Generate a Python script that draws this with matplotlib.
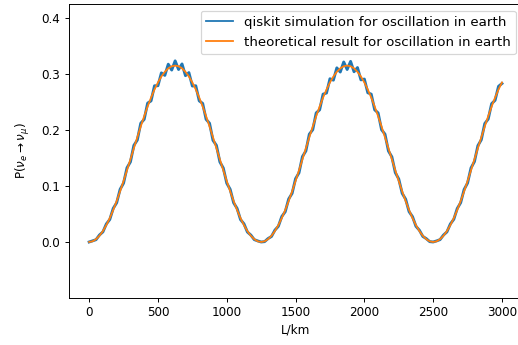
import matplotlib
matplotlib.use("Agg")
import matplotlib.pyplot as plt
import numpy as np

# distance in km, sampled every 25 km from 0 to 3000
L_km = np.arange(0, 3001, 25)

# qiskit simulation (noisy)
p_sim = [
    0.0000, 0.0020, 0.0041, 0.0125, 0.0180, 0.0322, 0.0402, 0.0600, 0.0700, 0.0940,
    0.1050, 0.1325, 0.1430, 0.1725, 0.1820, 0.2120, 0.2190, 0.2480, 0.2520, 0.2790,
    0.2790, 0.3020, 0.2975, 0.3175, 0.3070, 0.3235, 0.3080, 0.3180, 0.2970, 0.3025,
    0.2785, 0.2790, 0.2520, 0.2475, 0.2190, 0.2120, 0.1815, 0.1725, 0.1430, 0.1320,
    0.1050, 0.0940, 0.0700, 0.0600, 0.0400, 0.0325, 0.0178, 0.0124, 0.0042, 0.0019,
    0.0000, 0.0006, 0.0061, 0.0098, 0.0212, 0.0280, 0.0455, 0.0540, 0.0768, 0.0868,
    0.1130, 0.1235, 0.1525, 0.1625, 0.1925, 0.2005, 0.2305, 0.2360, 0.2640, 0.2660,
    0.2915, 0.2890, 0.3110, 0.3035, 0.3215, 0.3080, 0.3225, 0.3040, 0.3115, 0.2895,
    0.2910, 0.2665, 0.2640, 0.2360, 0.2305, 0.2005, 0.1925, 0.1625, 0.1520, 0.1238,
    0.1125, 0.0868, 0.0765, 0.0542, 0.0452, 0.0280, 0.0210, 0.0099, 0.0060, 0.0006,
    0.0000, 0.0019, 0.0042, 0.0124, 0.0180, 0.0322, 0.0405, 0.0598, 0.0702, 0.0938,
    0.1052, 0.1322, 0.1435, 0.1720, 0.1826, 0.2115, 0.2195, 0.2470, 0.2530, 0.2780,
    0.2830,
]

# theoretical curve
p_theory = [
    0.0000, 0.0012, 0.0050, 0.0111, 0.0195, 0.0301, 0.0427, 0.0571, 0.0731, 0.0904,
    0.1088, 0.1280, 0.1476, 0.1674, 0.1870, 0.2062, 0.2246, 0.2419, 0.2579, 0.2723,
    0.2849, 0.2955, 0.3039, 0.3101, 0.3138, 0.3150, 0.3138, 0.3101, 0.3039, 0.2955,
    0.2849, 0.2723, 0.2579, 0.2419, 0.2246, 0.2062, 0.1870, 0.1674, 0.1476, 0.1280,
    0.1088, 0.0904, 0.0731, 0.0571, 0.0427, 0.0301, 0.0195, 0.0111, 0.0050, 0.0012,
    0.0000, 0.0012, 0.0050, 0.0111, 0.0195, 0.0301, 0.0427, 0.0571, 0.0731, 0.0904,
    0.1088, 0.1280, 0.1476, 0.1674, 0.1870, 0.2062, 0.2246, 0.2419, 0.2579, 0.2723,
    0.2849, 0.2955, 0.3039, 0.3101, 0.3138, 0.3150, 0.3138, 0.3101, 0.3039, 0.2955,
    0.2849, 0.2723, 0.2579, 0.2419, 0.2246, 0.2062, 0.1870, 0.1674, 0.1476, 0.1280,
    0.1088, 0.0904, 0.0731, 0.0571, 0.0427, 0.0301, 0.0195, 0.0111, 0.0050, 0.0012,
    0.0000, 0.0012, 0.0050, 0.0111, 0.0195, 0.0301, 0.0427, 0.0571, 0.0731, 0.0904,
    0.1088, 0.1280, 0.1476, 0.1674, 0.1870, 0.2062, 0.2246, 0.2419, 0.2579, 0.2723,
    0.2849,
]

y_ticks = [0.0, 0.1, 0.2, 0.3, 0.4]
x_ticks = [0, 500, 1000, 1500, 2000, 2500, 3000]

W, H = 518, 345
DPI = 86.4
fig = plt.figure(figsize=(W / DPI, H / DPI), dpi=DPI)
# axes placed in pixels; right edge runs past the image like the cropped original
ax = fig.add_axes([68.5 / W, (H - 297.7) / H, (522.6 - 68.5) / W, (297.7 - 4) / H])

ax.plot(L_km, p_sim, color="tab:blue", lw=2.4, label="qiskit simulation for oscillation in earth")
ax.plot(L_km, p_theory, color="tab:orange", lw=1.5, label="theoretical result for oscillation in earth")

ax.set_xlim(-150, 3150)
ax.set_ylim(-0.0995, 0.425)
ax.set_xticks(x_ticks)
ax.set_yticks(y_ticks)
ax.set_xlabel("L/km")
ax.set_ylabel(r"P($\nu_e \rightarrow \nu_\mu$)", labelpad=8)
leg = ax.legend(loc="upper right", fontsize=11.2)
for line in leg.get_lines():
    line.set_linewidth(1.5)

fig.savefig("out.png", dpi=DPI)
